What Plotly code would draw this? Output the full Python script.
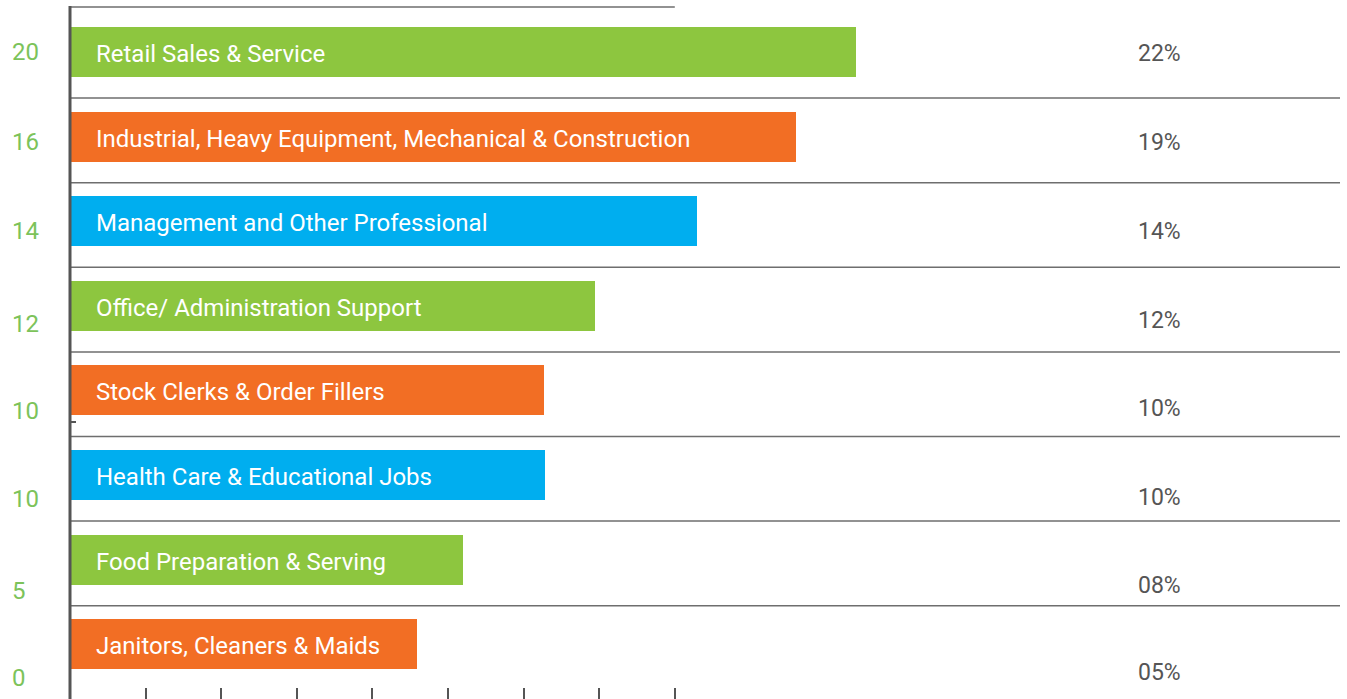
import plotly.graph_objects as go

W, H = 1347, 699
L = 70
PW = W - L

categories = [
    "Retail Sales & Service",
    "Industrial, Heavy Equipment, Mechanical & Construction",
    "Management and Other Professional",
    "Office/ Administration Support",
    "Stock Clerks & Order Fillers",
    "Health Care & Educational Jobs",
    "Food Preparation & Serving",
    "Janitors, Cleaners & Maids",
]
bar_values = [10.40, 9.60, 8.29, 6.94, 6.27, 6.28, 5.20, 4.59]
percent_labels = ["22%", "19%", "14%", "12%", "10%", "10%", "08%", "05%"]
left_labels = ["20", "16", "14", "12", "10", "10", "5", "0"]
x_ticks = [0, 1, 2, 3, 4, 5, 6, 7, 8]

GREEN = "#8dc63f"
ORANGE = "#f26e24"
BLUE = "#00aeef"
bar_colors = [GREEN, ORANGE, BLUE, GREEN, ORANGE, BLUE, GREEN, ORANGE]

# layout positions (pixels) for the side label columns
left_label_y = [52, 142, 231, 324, 411, 499, 591, 678]
pct_label_y = [53, 142, 231, 320, 408, 497, 585, 672]


def px_x(px):
    return (px - L) / PW


idx = list(range(len(categories)))

fig = go.Figure()
fig.add_trace(go.Bar(
    x=bar_values, y=idx, orientation="h",
    marker=dict(color=bar_colors, line=dict(width=0)),
    width=0.59, hoverinfo="skip", showlegend=False,
))

annotations = []
for i, c in enumerate(categories):
    annotations.append(dict(
        x=0, y=i, xref="x", yref="y", text=c, showarrow=False,
        xanchor="left", xshift=24, yshift=-2,
        font=dict(family="Roboto", size=24, color="white"),
    ))
for lab, py in zip(left_labels, left_label_y):
    annotations.append(dict(
        x=px_x(10), y=1 - py / H, xref="paper", yref="paper", text=lab,
        showarrow=False, xanchor="left", yanchor="middle",
        font=dict(family="Roboto", size=24, color="#7cc35a"),
    ))
for lab, py in zip(percent_labels, pct_label_y):
    annotations.append(dict(
        x=px_x(1136), y=1 - py / H, xref="paper", yref="paper", text=lab,
        showarrow=False, xanchor="left", yanchor="middle",
        font=dict(family="Roboto", size=23, color="#555555"),
    ))

shapes = []
# separators between rows
for i in range(len(categories) - 1):
    shapes.append(dict(type="line", xref="paper", yref="y",
                       x0=0, x1=px_x(1340), y0=i + 0.545, y1=i + 0.545,
                       line=dict(color="#6e6e6e", width=1.5)))
# top line
shapes.append(dict(type="line", xref="x", yref="paper", x0=0, x1=x_ticks[-1],
                   y0=1 - 7 / H, y1=1 - 7 / H, line=dict(color="#6e6e6e", width=1.5)))
# vertical axis line (paper ref so it is not clipped)
shapes.append(dict(type="line", xref="paper", yref="paper", x0=0, x1=0,
                   y0=0, y1=1 - 6 / H, line=dict(color="#555555", width=3)))
# small tick on the vertical axis
shapes.append(dict(type="line", xref="paper", yref="paper", x0=0, x1=px_x(76),
                   y0=1 - 422 / H, y1=1 - 422 / H, line=dict(color="#555555", width=2)))

fig.update_layout(
    width=W, height=H,
    margin=dict(l=L, r=0, t=0, b=0),
    paper_bgcolor="white", plot_bgcolor="white",
    bargap=0,
    xaxis=dict(range=[0, PW / 75.6], tickvals=x_ticks, ticks="inside",
               ticklen=11, tickwidth=2, tickcolor="#555555", showticklabels=False,
               showgrid=False, zeroline=False, showline=False, fixedrange=True),
    yaxis=dict(range=[(H - 52) / 84.6, -52 / 84.6], showticklabels=False,
               showgrid=False, zeroline=False, showline=False, ticks="", fixedrange=True),
    annotations=annotations, shapes=shapes,
)

fig.write_html("out.html")
